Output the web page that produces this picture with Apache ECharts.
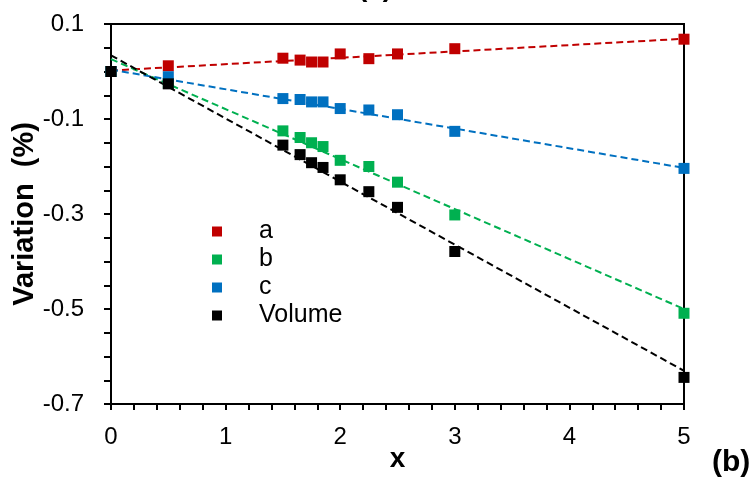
<!DOCTYPE html>
<html>
<head>
<meta charset="utf-8">
<script src="https://cdn.jsdelivr.net/npm/echarts@6/dist/echarts.min.js"></script>
<style>
html,body{margin:0;padding:0;background:#fff;}
#chart{width:750px;height:484px;}
</style>
</head>
<body>
<div id="chart"></div>
<script>
// ---- data ----
const xValues = [0, 0.5, 1.5, 1.65, 1.75, 1.85, 2.0, 2.25, 2.5, 3, 5];
const seriesA = [0, 0.012, 0.028, 0.024, 0.020, 0.020, 0.037, 0.027, 0.037, 0.048, 0.068];
const seriesB = [0, -0.025, -0.125, -0.139, -0.150, -0.158, -0.187, -0.200, -0.233, -0.302, -0.509];
const seriesC = [0, -0.011, -0.057, -0.059, -0.064, -0.064, -0.078, -0.081, -0.091, -0.126, -0.204];
const seriesVolume = [0, -0.026, -0.155, -0.175, -0.192, -0.202, -0.228, -0.253, -0.286, -0.379, -0.644];
// fitted trend lines: value at x = 0 and at x = 5
const fitX = [0, 5];
const fitA = [0.002, 0.069];
const fitB = [0.026, -0.500];
const fitC = [0.004, -0.203];
const fitVolume = [0.034, -0.630];
const names = ['a', 'b', 'c', 'Volume'];
const colors = ['#C00000', '#00B050', '#0070C0', '#000000'];
const yTicks = [-0.7, -0.5, -0.3, -0.1, 0.1];

const FONT = '"Liberation Sans", Arial, sans-serif';
const pts = (ys) => xValues.map((x, i) => [x, ys[i]]);
const fitPts = (ys) => fitX.map((x, i) => [x, ys[i]]);

const scatterData = [seriesA, seriesB, seriesC, seriesVolume];
const fitData = [fitA, fitB, fitC, fitVolume];

const series = [];
fitData.forEach((f, i) => {
  series.push({
    type: 'line', name: names[i] + '_fit', data: fitPts(f), symbol: 'none', silent: true,
    lineStyle: { color: colors[i], width: 2, type: [7, 4] }, z: 2
  });
});
scatterData.forEach((s, i) => {
  series.push({
    type: 'scatter', name: names[i], data: pts(s), symbol: 'rect', symbolSize: 11,
    itemStyle: { color: colors[i], opacity: 1 }, z: 3 + i
  });
});

const chart = echarts.init(document.getElementById('chart'), null, { renderer: 'canvas' });
chart.setOption({
  animation: false,
  backgroundColor: '#fff',
  color: colors,
  grid: { left: 111, right: 66, top: 24, bottom: 80, show: true, borderColor: '#000', borderWidth: 2, backgroundColor: 'transparent', containLabel: false, outerBoundsMode: 'none' },
  legend: {
    data: names, orient: 'vertical', left: 207, top: 214,
    icon: 'rect', itemWidth: 10, itemHeight: 10, itemGap: 3,
    selectedMode: false,
    textStyle: { fontFamily: FONT, fontSize: 25, color: '#000', padding: [0, 0, 0, 32], lineHeight: 20 }
  },
  xAxis: {
    type: 'value', min: 0, max: 5, interval: 1,
    name: 'x', nameLocation: 'middle', nameGap: 41, nameMoveOverlap: false,
    nameTextStyle: { fontFamily: FONT, fontSize: 28, fontWeight: 'bold', color: '#000' },
    axisLine: { show: true, onZero: false, lineStyle: { color: '#000', width: 2 } },
    axisTick: { show: true, inside: false, length: 6, lineStyle: { color: '#000', width: 2 } },
    minorTick: { show: true, splitNumber: 5, length: 6, lineStyle: { color: '#000', width: 2 } },
    axisLabel: { fontFamily: FONT, fontSize: 24, color: '#000', margin: 21 },
    splitLine: { show: false }
  },
  yAxis: {
    type: 'value', min: yTicks[0], max: yTicks[yTicks.length - 1], interval: 0.2,
    name: 'Variation  (%)', nameLocation: 'middle', nameGap: 72, nameRotate: 90, nameMoveOverlap: false,
    nameTextStyle: { fontFamily: FONT, fontSize: 29, fontWeight: 'bold', color: '#000' },
    axisLine: { show: true, onZero: false, lineStyle: { color: '#000', width: 2 } },
    axisTick: { show: true, inside: false, length: 7, lineStyle: { color: '#000', width: 2 } },
    minorTick: { show: true, splitNumber: 4, length: 7, lineStyle: { color: '#000', width: 2 } },
    axisLabel: { fontFamily: FONT, fontSize: 24, color: '#000', margin: 27, formatter: (v) => v.toFixed(1) },
    splitLine: { show: false }
  },
  graphic: [
    { type: 'text', left: 712, top: 448, style: { text: '(b)', fontFamily: FONT, fontSize: 30, fontWeight: 'bold', fill: '#000' } },
    { type: 'text', x: 375, y: -12, style: { text: '(a)', fontFamily: FONT, fontSize: 28, fontWeight: 'bold', fill: '#000', align: 'center', verticalAlign: 'middle' } }
  ],
  series: series
});
</script>
</body>
</html>
